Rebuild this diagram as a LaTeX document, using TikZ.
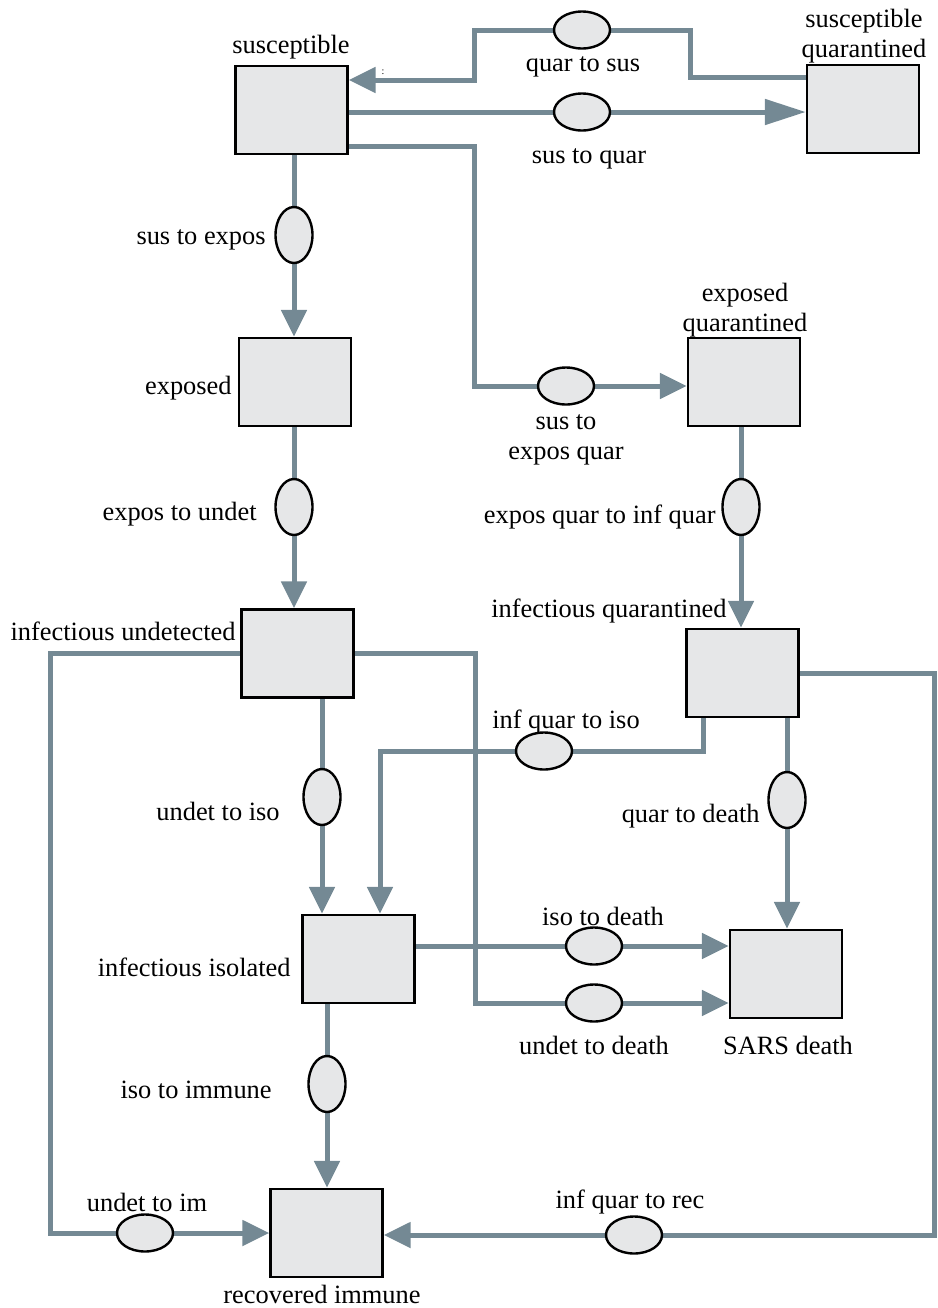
\documentclass[tikz,border=0pt]{standalone}
\usepackage{fontspec}
\setmainfont{Liberation Serif}
\usepackage{tikz}
\usetikzlibrary{shapes.geometric, arrows.meta, positioning, backgrounds}
\definecolor{pipegray}{RGB}{116,137,148}
\definecolor{stockfill}{RGB}{230,231,232}

\begin{document}
\begin{tikzpicture}[
    x=0.5pt, y=-0.5pt,
    stock/.style={rectangle, draw=black, line width=1.2pt, fill=stockfill,
                  minimum width=56pt, minimum height=44pt, inner sep=0pt},
    hvalve/.style={ellipse, draw=black, line width=1.2pt, fill=stockfill,
                   minimum width=28pt, minimum height=18.5pt, inner sep=0pt},
    vvalve/.style={ellipse, draw=black, line width=1.2pt, fill=stockfill,
                   minimum width=18.5pt, minimum height=28pt, inner sep=0pt},
    pipe/.style={draw=pipegray, line width=2.5pt},
    flow/.style={pipe, -{Triangle[length=13.5pt, width=12.5pt]}},
    longflow/.style={pipe, -{Triangle[length=20.5pt, width=12.5pt]}},
    lbl/.style={font=\fontsize{13.2}{15}\selectfont, inner sep=0pt, align=center,
                yshift=-1.5pt}
]
\useasboundingbox (0,0) rectangle (938,1308);

% stocks
\node[stock] (sus)   at (291.5,110) {};
\node[stock] (susq)  at (863,109)   {};
\node[stock] (exp)   at (295,382)   {};
\node[stock] (expq)  at (744,382)   {};
\node[stock] (infu)  at (297.5,653.5) {};
\node[stock] (infq)  at (742.5,673) {};
\node[stock] (iso)   at (358.5,959) {};
\node[stock] (death) at (786,974)   {};
\node[stock] (rec)   at (326.5,1233) {};

% valves
\node[hvalve] (q2s)   at (582,30)   {};
\node[hvalve] (s2q)   at (582,112)  {};
\node[vvalve] (s2e)   at (294,235)  {};
\node[hvalve] (s2eq)  at (566,386)  {};
\node[vvalve] (e2u)   at (294,507)  {};
\node[vvalve] (eq2iq) at (741,507)  {};
\node[vvalve] (u2i)   at (322,797)  {};
\node[hvalve] (iq2i)  at (544,751)  {};
\node[vvalve] (q2d)   at (787,800)  {};
\node[hvalve] (i2d)   at (594,946)  {};
\node[hvalve] (u2d)   at (594,1003) {};
\node[vvalve] (i2im)  at (327,1084) {};
\node[hvalve] (u2im)  at (145,1233) {};
\node[hvalve] (iq2r)  at (634,1235) {};

% flows
\begin{scope}[on background layer]
\draw[flow] (susq.west |- 0,77) -| (690,30) -- (q2s) -| (474,80) -- (sus.east |- 0,80);
\draw[longflow] (sus.east |- s2q) -- (susq.west |- s2q);
\draw[flow] (sus.south -| s2e) -- (exp.north -| s2e);
\draw[flow] (sus.east |- 0,146) -| (474,386) -- (expq.west |- s2eq);
\draw[flow] (exp.south -| e2u) -- (infu.north -| e2u);
\draw[flow] (expq.south -| eq2iq) -- (infq.north -| eq2iq);
\draw[flow] (infu.south -| u2i) -- (iso.north -| u2i);
\draw[flow] (infq.south -| 703,0) |- (iq2i) -| (iso.north -| 380,0);
\draw[flow] (infq.south -| q2d) -- (death.north -| q2d);
\draw[flow] (iso.east |- i2d) -- (death.west |- i2d);
\draw[flow] (infu.east) -| (475,1003) -- (death.west |- u2d);
\draw[flow] (iso.south -| i2im) -- (rec.north -| i2im);
\draw[flow] (infu.west) -| (50,1233) -- (rec.west |- u2im);
\draw[flow] (infq.east) -| (934,1235) -- (rec.east |- iq2r);
\end{scope}

% labels
\node[lbl] (susL)   at (291,44)  {susceptible};
\node[lbl] (susqL)  at (864,33)  {susceptible\\quarantined};
\node[lbl] (q2sL)   at (583,64)  {quar to sus};
\node[font=\tiny, inner sep=0pt] (mark) at (383,72) {:};
\node[lbl] (s2qL)   at (589,156) {sus to quar};
\node[lbl, anchor=east] (s2eL) at (266,237) {sus to expos};
\node[lbl, anchor=east] (expL) at (232,385) {exposed};
\node[lbl] (expqL)  at (745,307) {exposed\\quarantined};
\node[lbl] (s2eqL)  at (566,437) {sus to\\expos quar};
\node[lbl, anchor=east] (e2uL)  at (257,511) {expos to undet};
\node[lbl, anchor=east] (eq2iqL) at (716,514) {expos quar to inf quar};
\node[lbl, anchor=east] (infuL) at (236,628) {infectious undetected};
\node[lbl, anchor=east] (infqL) at (727,608) {infectious quarantined};
\node[lbl] (iq2iL)  at (566,719) {inf quar to iso};
\node[lbl, anchor=east] (u2iL)  at (280,808) {undet to iso};
\node[lbl, anchor=east] (q2dL)  at (760,813) {quar to death};
\node[lbl] (i2dL)   at (603,913) {iso to death};
\node[lbl, anchor=east] (isoL)  at (291,964) {infectious isolated};
\node[lbl] (u2dL)   at (594,1042) {undet to death};
\node[lbl] (deathL) at (788,1042) {SARS death};
\node[lbl, anchor=east] (i2imL) at (272,1087) {iso to immune};
\node[lbl] (u2imL)  at (147,1199) {undet to im};
\node[lbl] (iq2rL)  at (630,1199) {inf quar to rec};
\node[lbl] (recL)   at (322,1291) {recovered immune};
\end{tikzpicture}
\end{document}
